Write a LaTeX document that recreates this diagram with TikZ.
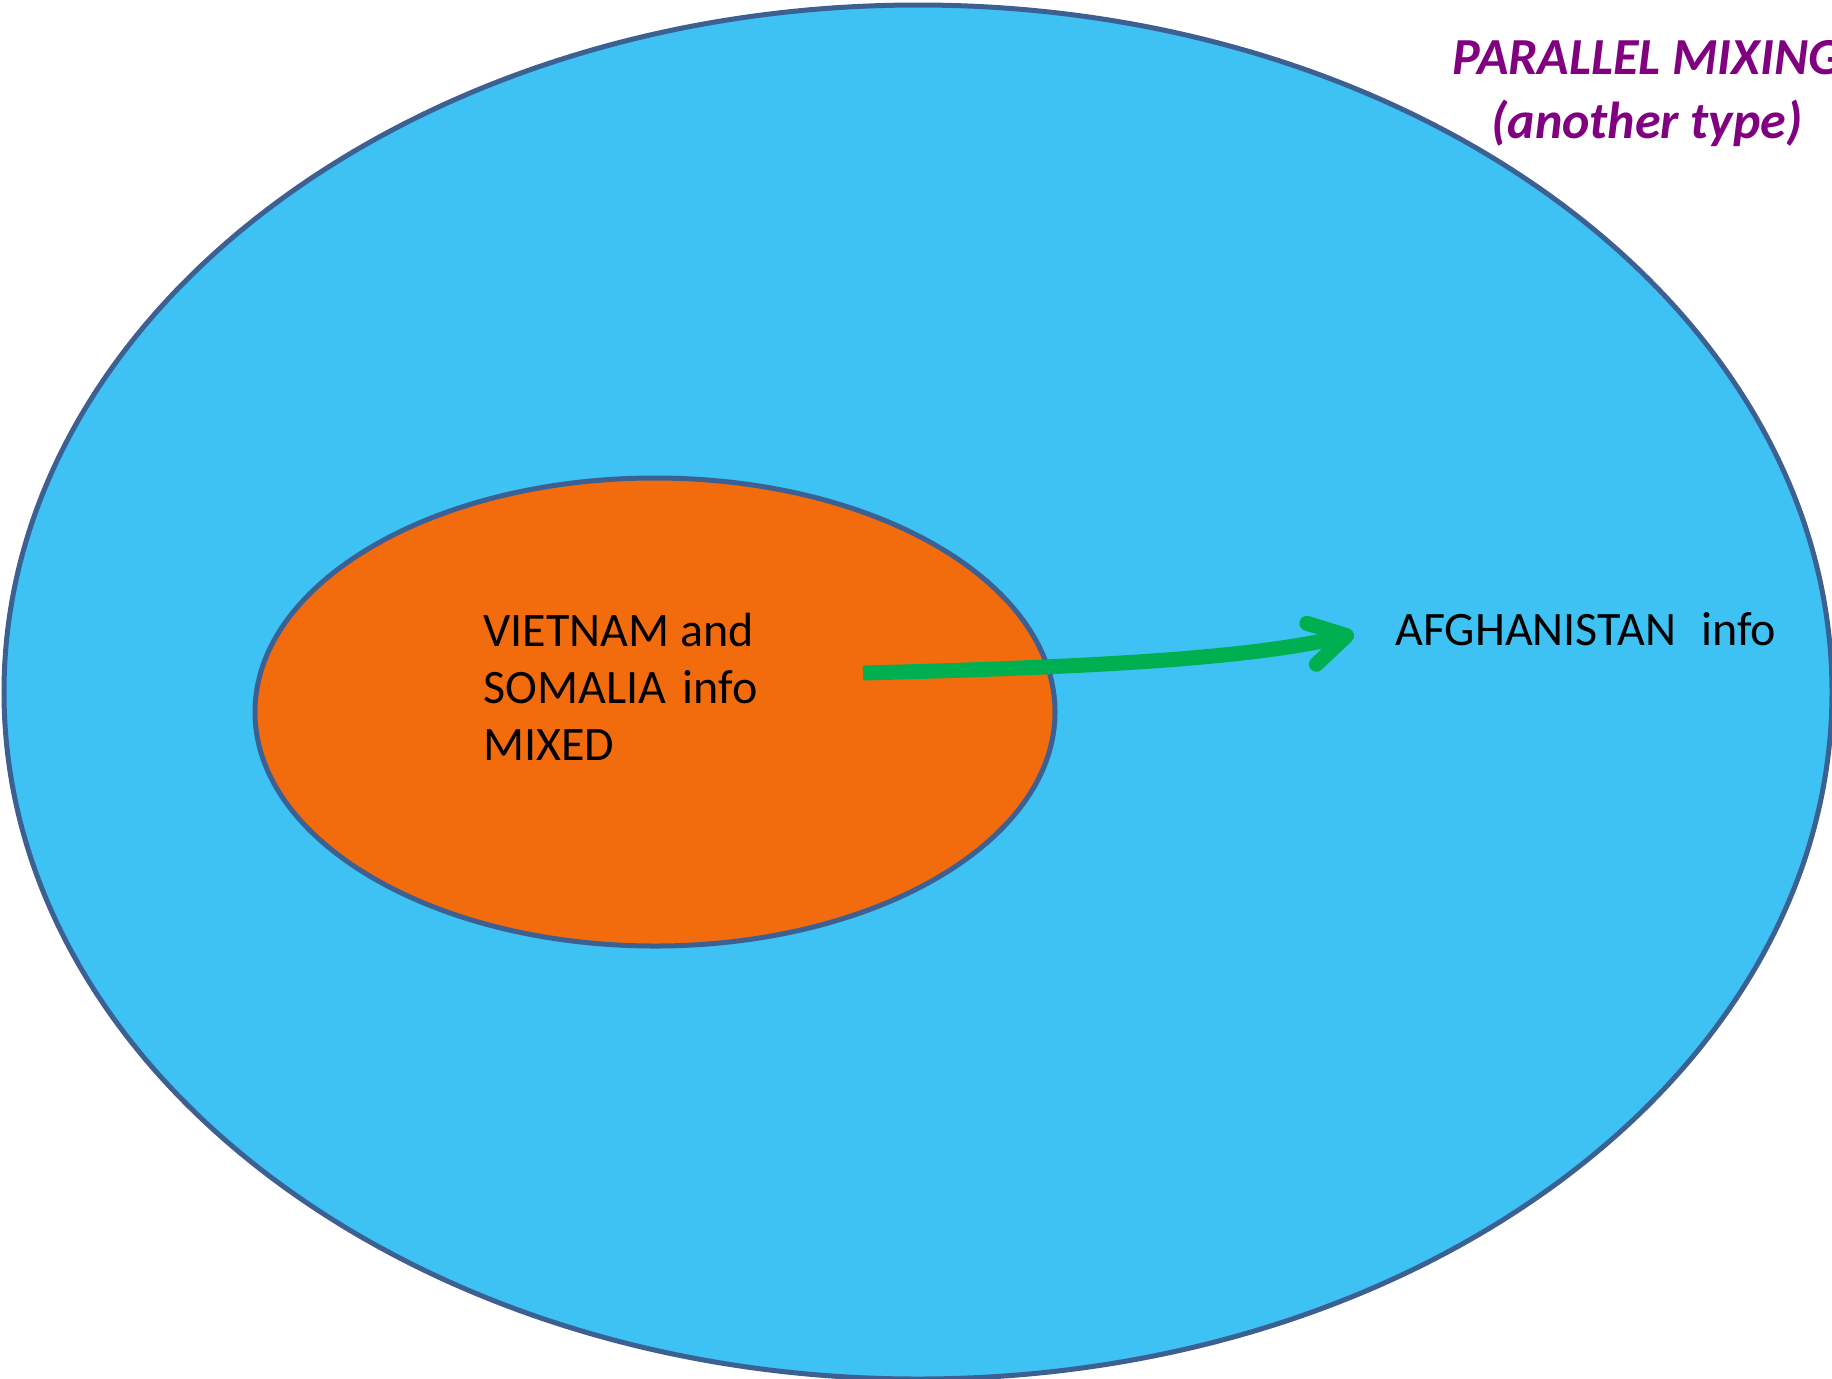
\documentclass[tikz,border=0pt]{standalone}
\usepackage{fontspec}
\setmainfont{Carlito}
\usepackage{tikz}
\usetikzlibrary{arrows.meta,shapes.geometric}
\definecolor{skyfill}{RGB}{62,193,243}
\definecolor{orangefill}{RGB}{242,108,14}
\definecolor{rimblue}{RGB}{60,96,145}
\definecolor{arrowgreen}{RGB}{0,176,80}
\definecolor{titlepurple}{RGB}{128,0,128}

\begin{document}
\begin{tikzpicture}[
  x=0.5pt, y=-0.5pt,
  blob/.style={ellipse, draw=rimblue, line width=2.5pt, inner sep=0pt},
  lbl/.style={font=\fontsize{24}{28.5}\selectfont, inner sep=0pt, align=left},
  ttl/.style={font=\fontsize{26}{32}\selectfont\bfseries\itshape, text=titlepurple, inner sep=0pt, align=center},
  arr/.style={-{Straight Barb[length=18pt, width=21pt, line cap=round, line join=round]}, line width=7.5pt, arrowgreen}]
\useasboundingbox (0,0) rectangle (1832,1378);
\clip (0,0) rectangle (1832,1378);
\node[blob, fill=skyfill, minimum width=914pt, minimum height=687pt] (outer) at (918,692) {};
\node[blob, fill=orangefill, minimum width=400pt, minimum height=234pt] (inner) at (655,712) {};
\node[ttl, anchor=north] (title) at (1647,40) {PARALLEL MIXING\\(another type)};
\node[lbl, anchor=north west] (mixed) at (483,613) {VIETNAM and\\SOMALIA\hspace{0.12em} info\\MIXED};
\node[lbl, anchor=base west] (afghan) at (1395,645) {AFGHANISTAN\hspace{0.3em} info};
\coordinate (mixtail) at (863,673);
\coordinate (afghead) at (1354,634);
\draw[arr] (mixtail) .. controls (1100,667) and (1250,658) .. (afghead);
\end{tikzpicture}
\end{document}
